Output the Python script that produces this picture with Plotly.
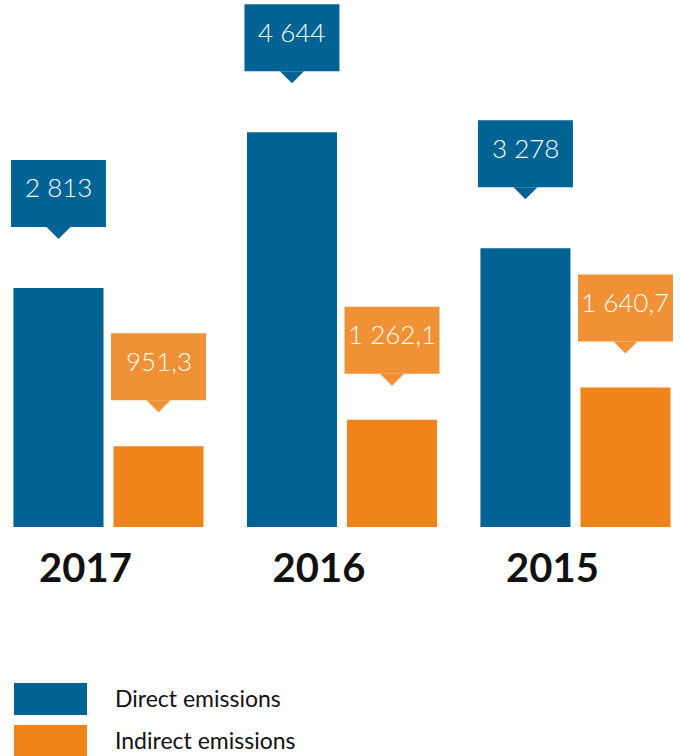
import plotly.graph_objects as go

# ---- data ----
years = ["2017", "2016", "2015"]
direct = [2813, 4644, 3278]
indirect = [951.3, 1262.1, 1640.7]
series_names = ["Direct emissions", "Indirect emissions"]

# ---- style ----
BLUE = "#006394"
ORANGE = "#EE841A"
ORANGE_LIGHT = "#F09135"
TEXT_DARK = "#111111"
BARGAP = 0.143
BARGROUPGAP = 0.1
W, H = 681, 756
PLOT_BOTTOM = 527


def fmt(v):
    if float(v).is_integer():
        return f"{int(v):,}".replace(",", " ")
    return f"{v:,.1f}".replace(",", " ").replace(".", ",")


idx = list(range(len(years)))
half = (1 - BARGAP) / 4

fig = go.Figure()
fig.add_trace(go.Bar(x=idx, y=direct, name=series_names[0], marker_color=BLUE,
                     marker_line_width=0, showlegend=False, hoverinfo="skip"))
fig.add_trace(go.Bar(x=idx, y=indirect, name=series_names[1], marker_color=ORANGE,
                     marker_line_width=0, showlegend=False, hoverinfo="skip"))

shapes = []
annotations = []
BOX_W, BOX_H, TIP = 95, 67, 12
for vals, sign, fill, off in [(direct, -1, BLUE, 61), (indirect, 1, ORANGE_LIGHT, 46)]:
    for i, v in enumerate(vals):
        xc = i + sign * half
        common = dict(xref="x", yref="y", xsizemode="pixel", ysizemode="pixel",
                      xanchor=xc, yanchor=v, fillcolor=fill, line=dict(width=0), layer="above")
        shapes.append(dict(type="rect", x0=-BOX_W / 2, x1=BOX_W / 2, y0=off, y1=off + BOX_H, **common))
        shapes.append(dict(type="path", path=f"M -12,{off} L 12,{off} L 0,{off - TIP} Z", **common))
        annotations.append(dict(xref="x", yref="y", x=xc, y=v, yshift=off + BOX_H / 2 + 6,
                                text=fmt(v), showarrow=False, xanchor="center", yanchor="middle",
                                font=dict(family="Lato", size=26, color="white", weight=300)))

# legend swatches + labels
for k, (name, col) in enumerate(zip(series_names, [BLUE, ORANGE])):
    top = 683 + k * 42
    shapes.append(dict(type="rect", xref="paper", yref="paper", xsizemode="pixel", ysizemode="pixel",
                       xanchor=0, yanchor=0, x0=14, x1=87,
                       y0=PLOT_BOTTOM - top, y1=PLOT_BOTTOM - (top + 32 if k == 0 else top + 40),
                       fillcolor=col, line=dict(width=0)))
    annotations.append(dict(xref="paper", yref="paper", x=0, y=0, xshift=113,
                            yshift=-(697.5 + k * 42.5 - PLOT_BOTTOM),
                            text=name, showarrow=False, xanchor="left", yanchor="middle",
                            font=dict(family="Lato", size=23, color=TEXT_DARK)))

fig.update_layout(
    width=W, height=H,
    margin=dict(l=0, r=0, t=0, b=H - PLOT_BOTTOM, pad=0),
    paper_bgcolor="white", plot_bgcolor="white",
    barmode="group", bargap=BARGAP, bargroupgap=BARGROUPGAP,
    shapes=shapes, annotations=annotations,
    xaxis=dict(range=[-0.4647, 2.452], tickmode="array", tickvals=idx, ticktext=years,
               tickfont=dict(family="Lato", size=40, color=TEXT_DARK, weight="bold"),
               ticks="", showgrid=False, zeroline=False, showline=False,
               ticklabelshift=-23, ticklabelstandoff=14, fixedrange=True),
    yaxis=dict(range=[0, 6200], visible=False, showgrid=False, zeroline=False, fixedrange=True),
)

fig.write_html("out.html")
